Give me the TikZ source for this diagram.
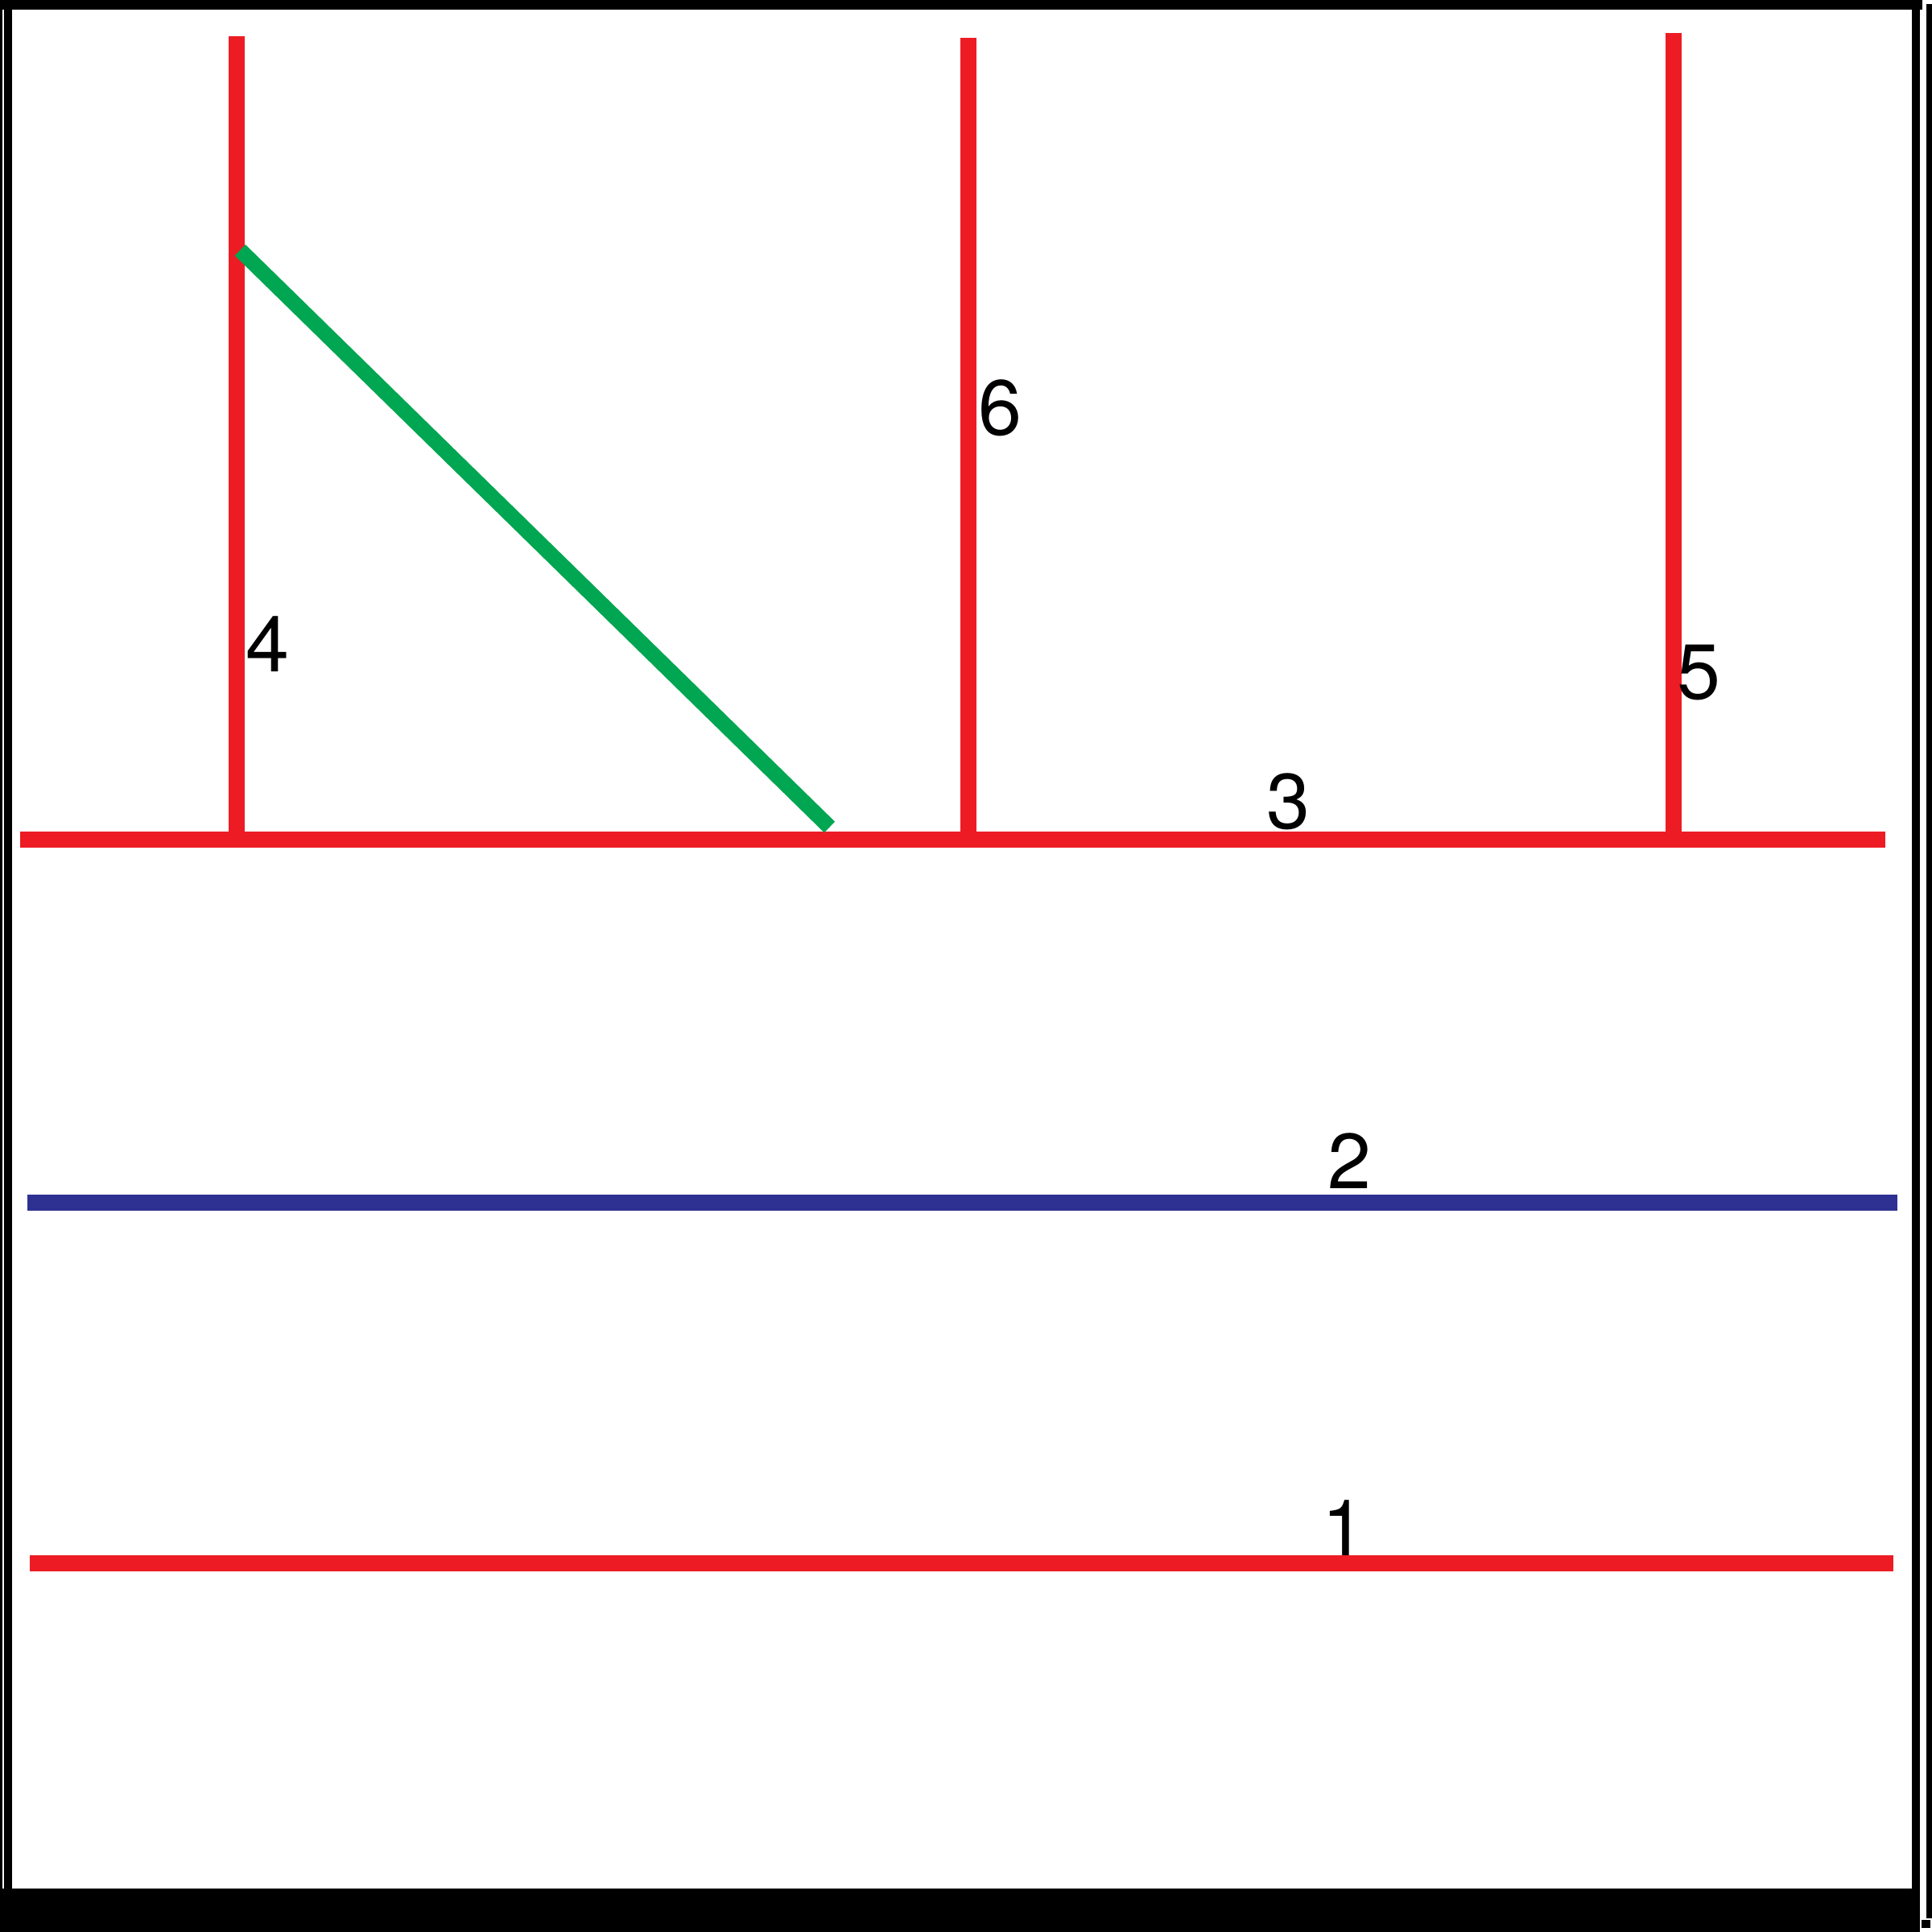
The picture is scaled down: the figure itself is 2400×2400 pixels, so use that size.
\documentclass[tikz,border=0pt]{standalone}
\usepackage{fontspec}
\setmainfont{TeX Gyre Heros}
\definecolor{ared}{HTML}{ED1C24}
\definecolor{agreen}{HTML}{00A651}
\definecolor{ablue}{HTML}{2E3192}
\begin{document}
\begin{tikzpicture}[x=0.01cm,y=-0.01cm,
  bar/.style={line width=0.2cm,line cap=butt},
  lbl/.style={inner sep=0pt,anchor=center,font=\fontsize{27.6}{30}\selectfont}]
\useasboundingbox (0,0) rectangle (2400,2400);
% frame
\fill[black] (0,0) rectangle (3,2346);
\fill[black] (5,0) rectangle (15,2400);
\fill[black] (0,0) rectangle (2388,12);
\fill[black] (2375,0) rectangle (2385,2400);
\fill[black] (0,2346) rectangle (2385,2400);
\fill[black] (2393,5) rectangle (2400,2383);
\fill[black] (2387,2385) rectangle (2398,2395);
% coordinates
\coordinate (h3l) at (25,1043);
\coordinate (h3r) at (2342,1043);
\coordinate (h2l) at (34,1494);
\coordinate (h2r) at (2357,1494);
\coordinate (h1l) at (37,1942);
\coordinate (h1r) at (2352,1942);
\coordinate (v4t) at (294,45);
\coordinate (v4b) at (294,1043);
\coordinate (v6t) at (1203,47);
\coordinate (v6b) at (1203,1043);
\coordinate (v5t) at (2079,41);
\coordinate (v5b) at (2079,1043);
\coordinate (gt) at (298.3,310.7);
\coordinate (gb) at (1030.5,1027.5);
% lines
\draw[bar,ared] (v4t) -- (v4b);
\draw[bar,ared] (v6t) -- (v6b);
\draw[bar,ared] (v5t) -- (v5b);
\draw[bar,ared] (h3l) -- (h3r);
\draw[bar,ablue] (h2l) -- (h2r);
\draw[bar,ared] (h1l) -- (h1r);
\draw[line width=0.19cm,agreen] (gt) -- (gb);
% labels
\node[lbl] (l4) at (332,800) {4};
\node[lbl] (l6) at (1242,507) {6};
\node[lbl] (l3) at (1600,996) {3};
\node[lbl] (l5) at (2110,836) {5};
\node[lbl] (l2) at (1676,1442) {2};
\node[lbl] (l1) at (1669,1898) {1};
\end{tikzpicture}
\end{document}
